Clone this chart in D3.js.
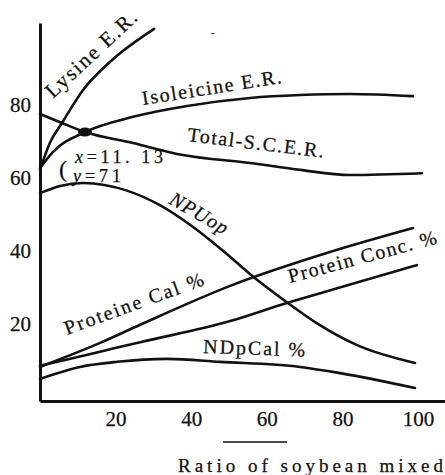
<!DOCTYPE html>
<html>
<head>
<meta charset="utf-8">
<script src="https://cdn.jsdelivr.net/npm/d3@7"></script>
<style>
  body { margin: 0; background: #fff; }
  svg text { font-family: "Liberation Serif", "DejaVu Serif", serif; fill: #111; stroke: #111; stroke-width: 0.25; }
</style>
</head>
<body>
<div id="chart"></div>
<script>
// values (x = ratio of soybean mixed, y = score)
const xTicks = [20, 40, 60, 80, 100];
const yTicks = [20, 40, 60, 80];

const lysine = [[0, 62.2], [2.6, 69.6], [5.8, 75.1], [11.4, 84.2], [18.5, 91.9], [30.2, 101]];
const isoleicine = [[0, 62.7], [3.4, 67.1], [11.9, 72.6], [24.6, 76.8], [38.9, 79.8], [55.6, 82], [68.8, 82.8], [82, 83.1], [98.7, 82.5]];
const totalSCER = [[0, 77.6], [5.8, 75.1], [11.9, 72.6], [24.6, 69.6], [37.8, 66.3], [55.6, 64.1], [68.8, 62.2], [82, 60.8], [101, 61.3]];
const npuop = [[0, 55.8], [5.3, 57.8], [11.4, 58.6], [23, 56.5], [31.7, 52.5], [40.5, 46.5], [49.5, 39], [55.6, 33.5], [65.3, 25.8], [73.3, 20], [83.9, 14], [99.2, 9.1]];
const proteineCal = [[0, 8], [15.9, 14.6], [26.5, 19.6], [50.3, 30.3], [76.7, 39.6], [98.7, 46.2]];
const proteinConc = [[0, 8.3], [15.9, 12.2], [26.5, 14.8], [50.3, 20.6], [65.3, 25.6], [75.9, 28.8], [99.7, 36]];
const ndpCal = [[0, 4.7], [10.6, 8], [20.4, 9.4], [33.6, 10.2], [47.6, 9.4], [68.8, 8], [79.4, 6.3], [99.2, 2.2]];

const crossPoint = [11.9, 72.6];

const width = 445, height = 475;

const svg = d3.select("#chart").append("svg")
  .attr("width", width)
  .attr("height", height);

// skala
const x = d3.scaleLinear().domain([0, 100]).range([40, 418]);
const y = d3.scaleLinear().domain([0, 100]).range([396, 32.5]);

// sumbu x (garis diperpanjang sedikit ke kanan seperti gambar)
const xAxisScale = x.copy().domain([0, 107]).range([x(0), x(107)]);
svg.append("g")
  .attr("transform", "translate(0," + y(-1.4) + ")")
  .call(d3.axisBottom(xAxisScale).tickValues(xTicks).tickSize(0).tickPadding(10))
  .call(g => g.select(".domain").attr("stroke", "#111").attr("stroke-width", 3))
  .call(g => g.selectAll("text").attr("font-size", 21).attr("font-family", "Liberation Serif").attr("fill", "#111"));

// sumbu y
const yAxisScale = y.copy().domain([-1.4, 102.6]).range([y(-1.4), y(102.6)]);
svg.append("g")
  .attr("transform", "translate(" + x(0) + ",0)")
  .call(d3.axisLeft(yAxisScale).tickValues(yTicks).tickSize(0).tickPadding(9))
  .call(g => g.select(".domain").attr("stroke", "#111").attr("stroke-width", 3))
  .call(g => g.selectAll("text").attr("font-size", 21).attr("font-family", "Liberation Serif").attr("fill", "#111"));

// garis-garis kurva
const line = d3.line()
  .x(d => x(d[0]))
  .y(d => y(d[1]))
  .curve(d3.curveMonotoneX);

[lysine, isoleicine, totalSCER, npuop, proteineCal, proteinConc, ndpCal].forEach(s => {
  svg.append("path")
    .datum(s)
    .attr("fill", "none")
    .attr("stroke", "#111")
    .attr("stroke-width", 2.6)
    .attr("stroke-linecap", "round")
    .attr("d", line);
});

// titik potong
svg.append("ellipse")
  .attr("cx", x(crossPoint[0]))
  .attr("cy", y(crossPoint[1]))
  .attr("rx", 7)
  .attr("ry", 4.5)
  .attr("fill", "#111");

// label kurva
function label(txt, px, py, rot, len, size, italic) {
  svg.append("text")
    .attr("transform", "translate(" + px + "," + py + ") rotate(" + rot + ")")
    .attr("font-size", size)
    .attr("font-style", italic ? "italic" : "normal")
    .attr("textLength", len)
    .attr("lengthAdjust", "spacing")
    .text(txt);
}

label("Lysine E.R.", 53, 99, -43, 117, 21);
label("Isoleicine E.R.", 143, 105, -9, 141, 20);
label("Total-S.C.E.R.", 187, 141, 7, 137, 20);
label("NPUop", 168, 203, 30, 64, 20, true);
label("Proteine Cal %", 67, 335, -20, 147, 20);
label("Protein Conc. %", 290, 283, -15, 153, 20);
label("NDpCal %", 203, 353, 2, 102, 20);

// anotasi titik potong
svg.append("text").attr("x", 59).attr("y", 177).attr("font-size", 24).text("(");
const ax = svg.append("text").attr("x", 75).attr("y", 163).attr("font-size", 18)
  .attr("textLength", 88).attr("lengthAdjust", "spacing");
ax.append("tspan").attr("font-style", "italic").text("x");
ax.append("tspan").text("=11. 13");
const ay = svg.append("text").attr("x", 73).attr("y", 182).attr("font-size", 18)
  .attr("textLength", 48).attr("lengthAdjust", "spacing");
ay.append("tspan").attr("font-style", "italic").text("y");
ay.append("tspan").text("=71");

// tanda kecil di atas
svg.append("text").attr("x", 211).attr("y", 36).attr("font-size", 10).text("-");

// garis panah kecil dan judul sumbu x
svg.append("line")
  .attr("x1", 223).attr("x2", 287)
  .attr("y1", 442).attr("y2", 442)
  .attr("stroke", "#111").attr("stroke-width", 1.6);

svg.append("text")
  .attr("x", 178).attr("y", 472)
  .attr("font-size", 19)
  .attr("textLength", 265)
  .attr("lengthAdjust", "spacing")
  .text("Ratio of soybean mixed");
</script>
</body>
</html>
